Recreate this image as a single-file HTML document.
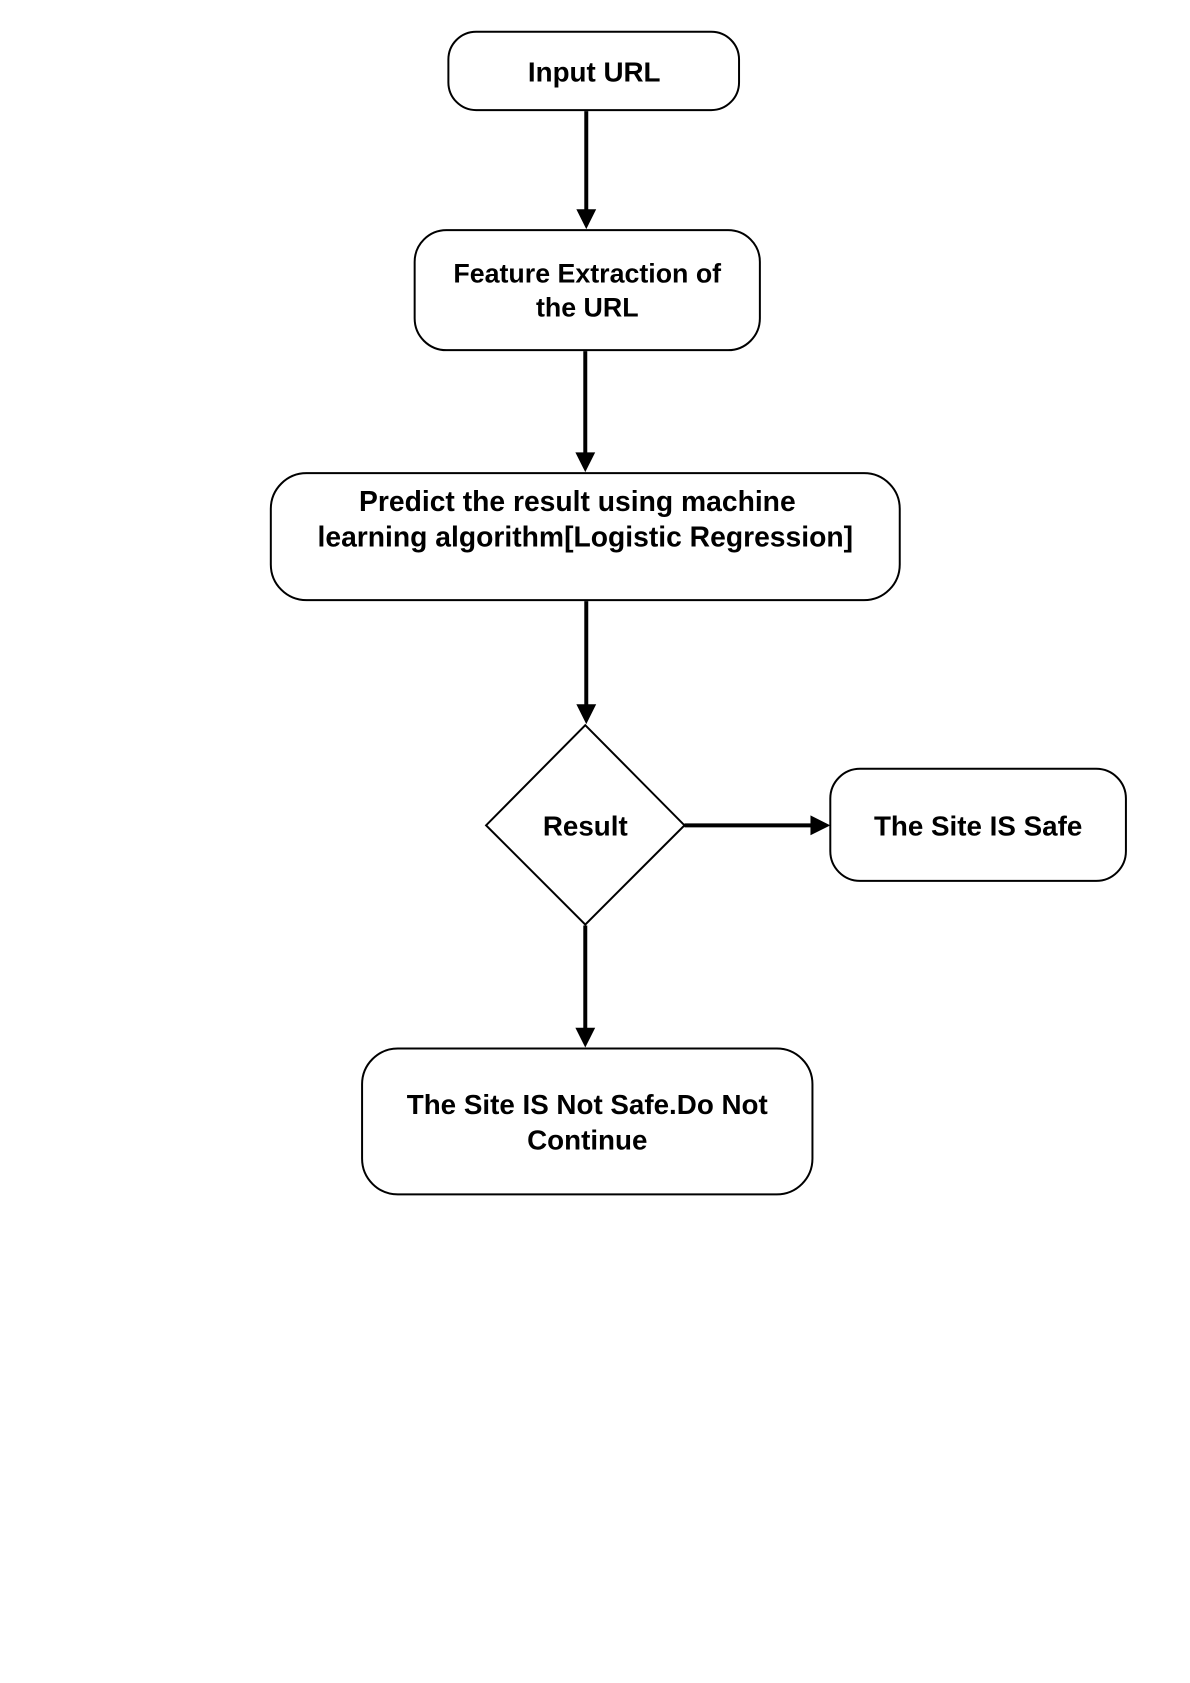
<!DOCTYPE html>
<html><head><meta charset="utf-8"><style>
html,body{margin:0;padding:0;background:#fff;width:1190px;height:1683px;overflow:hidden}
svg{display:block}
text{font-family:"Liberation Sans",Arial,sans-serif;font-weight:bold;font-size:27px;fill:#000;text-anchor:middle}
</style></head><body>
<svg width="1190" height="1683" viewBox="0 0 1190 1683">
<g transform="translate(0,-1) scale(0.992)">
<g fill="none" stroke="#000" stroke-width="2">
<rect x="452" y="33" width="293" height="79" rx="28"/>
<rect x="418" y="233" width="348" height="121" rx="32"/>
<rect x="273" y="478" width="634" height="128" rx="36"/>
<polygon points="590,732 690,833 590,933 490,833"/>
<rect x="837" y="776" width="298" height="113" rx="30"/>
<rect x="365" y="1058" width="454" height="147" rx="36"/>
</g>
<g stroke="#000" stroke-width="4">
<line x1="591" y1="113" x2="591" y2="214"/>
<line x1="590" y1="355" x2="590" y2="458"/>
<line x1="591" y1="607" x2="591" y2="713"/>
<line x1="690" y1="833" x2="818" y2="833"/>
<line x1="590" y1="934" x2="590" y2="1038"/>
</g>
<g fill="#000">
<path d="M581,212 L601,212 L591,232 z"/>
<path d="M580,457 L600,457 L590,477 z"/>
<path d="M581,711 L601,711 L591,731 z"/>
<path d="M817,823 L837,833 L817,843 z"/>
<path d="M580,1037 L600,1037 L590,1057 z"/>
</g>
<text x="599" y="83" style="font-size:28px">Input URL</text>
<text x="592" y="286">Feature Extraction of</text>
<text x="592" y="320">the URL</text>
<text x="582" y="516" style="font-size:28.5px">Predict the result using machine</text>
<text x="590" y="552" style="font-size:28.5px">learning algorithm[Logistic Regression]</text>
<text x="590" y="843" style="font-size:28px">Result</text>
<text x="986" y="843" style="font-size:28px">The Site IS Safe</text>
<text x="592" y="1124" style="font-size:28px">The Site IS Not Safe.Do Not</text>
<text x="592" y="1160" style="font-size:28px">Continue</text>
</g>
</svg>
</body></html>
